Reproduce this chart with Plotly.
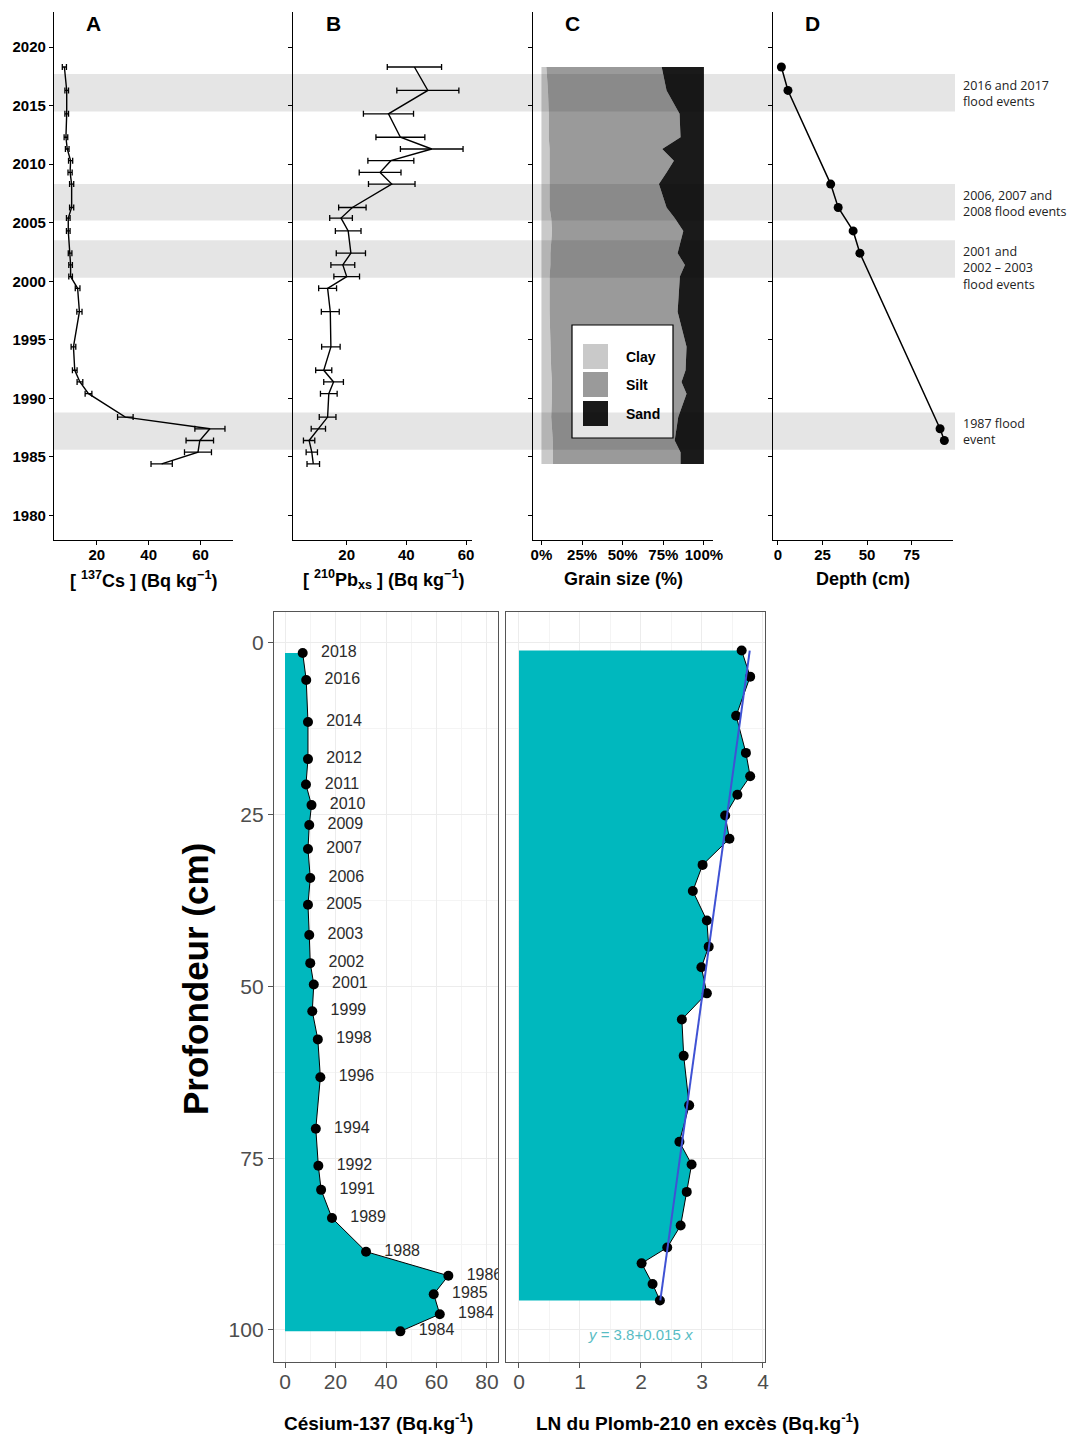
import plotly.graph_objects as go

# ---------------- DATA ----------------
# Top panels (dated core): year of each sample
years_top = [2018.3, 2016.3, 2014.3, 2012.3, 2011.3, 2010.3, 2009.3, 2008.3, 2006.3, 2005.4,
             2004.3, 2002.4, 2001.4, 2000.4, 1999.4, 1997.4, 1994.4, 1992.4, 1991.4, 1990.4,
             1988.4, 1987.4, 1986.4, 1985.4, 1984.4]
cs_top = [7.5, 8.4, 8.4, 8.1, 8.6, 9.9, 9.7, 10.3, 10.3, 9.0, 9.0, 9.7, 9.9, 9.9, 12.6,
          13.3, 11.0, 11.5, 13.5, 16.8, 31.0, 63.6, 59.7, 59.0, 45.0]
cs_err = [0.8, 0.7, 0.7, 0.7, 0.7, 0.8, 0.8, 0.8, 0.8, 0.7, 0.7, 0.7, 0.7, 0.7, 0.9,
          1.0, 0.9, 0.9, 1.1, 1.3, 3.0, 5.8, 5.3, 5.2, 4.1]
pb_top = [42.7, 47.2, 34.0, 38.0, 48.5, 34.8, 31.2, 35.1, 21.9, 18.1, 20.5, 21.4, 18.7,
          20.0, 13.6, 14.5, 14.7, 12.3, 15.6, 14.0, 13.6, 10.5, 7.4, 8.3, 8.8]
pb_err = [9.1, 10.4, 8.4, 8.2, 10.5, 7.7, 7.0, 7.8, 4.6, 3.8, 4.3, 4.9, 4.0, 4.3, 3.0,
          3.0, 3.1, 2.7, 3.3, 2.8, 2.8, 2.4, 1.9, 1.9, 2.1]
clay_pct = [3, 4, 4.5, 4.5, 5, 5, 5, 5, 5, 6, 6.5, 5.5, 5.5, 5, 5, 5, 5.5, 6, 6.5, 6.5,
            6, 6.5, 7, 7, 7]
silt_pct = [71, 73, 80.5, 81.1, 69.3, 76.5, 72, 67.3, 72, 76, 80.8, 78.3, 82.8, 80.2, 79.8,
            78.8, 83.8, 82.7, 79.7, 82.8, 78.2, 76.7, 75, 78.6, 78.6]
sand_pct = [26, 23, 15, 14.4, 25.7, 18.5, 23, 27.7, 23, 18, 12.7, 16.2, 11.7, 14.8, 15.2,
            16.2, 10.7, 11.3, 13.8, 10.7, 15.8, 16.8, 18, 14.4, 14.4]
years_d = [2018.3, 2016.3, 2008.3, 2006.3, 2004.3, 2002.4, 1987.4, 1986.4]
depth_d = [1.9, 5.6, 29.6, 33.8, 42.2, 46.0, 91.0, 93.4]

band_start = [2014.5, 2005.2, 2000.3, 1985.6]
band_end = [2017.7, 2008.3, 2003.5, 1988.8]
band_text = ["2016 and 2017<br>flood events", "2006, 2007 and<br>2008 flood events",
             "2001 and<br>2002 – 2003<br>flood events", "1987 flood<br>event"]
year_ticks = [1980, 1985, 1990, 1995, 2000, 2005, 2010, 2015, 2020]

# Bottom panels (depth profiles)
cs_depth = [1.46, 5.4, 11.5, 16.9, 20.6, 23.6, 26.5, 30.0, 34.2, 38.1, 42.5, 46.6, 49.7,
            53.6, 57.7, 63.2, 70.7, 76.1, 79.6, 83.7, 88.6, 92.1, 94.8, 97.7, 100.2]
cs_val = [7.0, 8.4, 9.1, 9.1, 8.3, 10.5, 9.6, 9.1, 10.0, 9.1, 9.6, 10.0, 11.4, 10.8, 13.0,
          14.0, 12.2, 13.2, 14.3, 18.6, 32.1, 64.7, 58.9, 61.3, 45.7]
cs_labels = ["2018", "2016", "2014", "2012", "2011", "2010", "2009", "2007", "2006", "2005",
             "2003", "2002", "2001", "1999", "1998", "1996", "1994", "1992", "1991", "1989",
             "1988", "1986", "1985", "1984", "1984"]
pb_depth = [1.1, 4.9, 10.6, 16.0, 19.4, 22.1, 25.1, 28.5, 32.3, 36.1, 40.4, 44.2, 47.2,
            51.0, 54.8, 60.1, 67.3, 72.6, 75.9, 79.9, 84.8, 88.0, 90.3, 93.3, 95.7]
pb_ln = [3.65, 3.79, 3.56, 3.72, 3.79, 3.58, 3.38, 3.45, 3.01, 2.85, 3.08, 3.11, 2.99,
         3.08, 2.67, 2.70, 2.79, 2.63, 2.83, 2.75, 2.65, 2.43, 2.01, 2.19, 2.31]
fit_intercept = 3.8
fit_slope = -0.0155
fit_label = "<i>y</i> = 3.8+0.015 <i>x</i>"

# ---------------- FIGURE ----------------
W, H = 1070, 1437
def px(x):
    return x / W
def py(y):
    return 1 - y / H

FONT = "Liberation Sans, Arial, sans-serif"
TEAL = "#00b8be"
fig = go.Figure()

# A
fig.add_trace(go.Scatter(x=cs_top, y=years_top, mode="lines", line=dict(color="black", width=1.4),
                         error_x=dict(type="data", array=cs_err, color="black", thickness=1.3, width=3),
                         xaxis="x", yaxis="y", showlegend=False))
# B
fig.add_trace(go.Scatter(x=pb_top, y=years_top, mode="lines", line=dict(color="black", width=1.4),
                         error_x=dict(type="data", array=pb_err, color="black", thickness=1.3, width=3),
                         xaxis="x2", yaxis="y2", showlegend=False))
# C stacked grain size
for vals, col, name in [(clay_pct, "#c9c9c9", "Clay"), (silt_pct, "#9a9a9a", "Silt"),
                        (sand_pct, "#1a1a1a", "Sand")]:
    fig.add_trace(go.Scatter(x=vals, y=years_top, mode="lines", stackgroup="gs", orientation="h",
                             line=dict(width=0, color=col), fillcolor=col, name=name,
                             xaxis="x3", yaxis="y3", showlegend=False))
# D
fig.add_trace(go.Scatter(x=depth_d, y=years_d, mode="lines+markers",
                         line=dict(color="black", width=1.5), marker=dict(color="black", size=9),
                         xaxis="x4", yaxis="y4", showlegend=False))

# Bottom left: Cs
fig.add_trace(go.Scatter(x=cs_val, y=cs_depth, mode="lines+markers", fill="tozerox",
                         fillcolor=TEAL, line=dict(color="black", width=1),
                         marker=dict(color="black", size=10),
                         xaxis="x5", yaxis="y5", showlegend=False))
fig.add_trace(go.Scatter(x=[v + 14.3 for v in cs_val], y=cs_depth, mode="text", text=cs_labels,
                         textfont=dict(family=FONT, size=16, color="#2b2b2b"),
                         textposition="middle center", cliponaxis=True,
                         xaxis="x5", yaxis="y5", showlegend=False))
# Bottom right: LN Pb
fig.add_trace(go.Scatter(x=pb_ln, y=pb_depth, mode="lines+markers", fill="tozerox",
                         fillcolor=TEAL, line=dict(color="black", width=1),
                         marker=dict(color="black", size=10),
                         xaxis="x6", yaxis="y6", showlegend=False))
fit_d = [pb_depth[0], pb_depth[-1]]
fig.add_trace(go.Scatter(x=[fit_intercept + fit_slope * d for d in fit_d], y=fit_d, mode="lines",
                         line=dict(color="#3f52d4", width=2),
                         xaxis="x6", yaxis="y6", showlegend=False))

# ---------------- AXES ----------------
top_dom = [py(540), py(12)]
yr_range = [1977.9, 2023.0]
tick_font = dict(family=FONT, size=15, color="black", weight="bold")

def top_x(domain, rng, tickvals, ticktext=None, anchor="y"):
    d = dict(domain=domain, range=rng, tickvals=tickvals, showgrid=False, zeroline=False,
             showline=True, linecolor="black", linewidth=1.2, ticks="outside", ticklen=4,
             tickcolor="black", tickfont=tick_font, anchor=anchor, automargin=False,
             ticklabelstandoff=-3)
    if ticktext:
        d["ticktext"] = ticktext
    return d

def top_y(anchor, labels):
    return dict(domain=top_dom, range=yr_range, tickvals=year_ticks, showgrid=False,
                zeroline=False, showline=True, linecolor="black", linewidth=1.2,
                ticks="outside", ticklen=4, tickcolor="black", tickfont=tick_font,
                showticklabels=labels, anchor=anchor, automargin=False)

grid = "#ececec"
bot_dom = [py(1362), py(612)]
def bot_axis(domain, rng, tickvals, minor_dtick, anchor, labels=True, ticks="outside",
             standoff=0):
    return dict(domain=domain, range=rng, tickvals=tickvals, showgrid=True, gridcolor=grid,
                gridwidth=1, zeroline=False, showline=True, mirror=True, linecolor="#555555",
                linewidth=1.3, ticks=ticks, ticklen=5, tickcolor="#555555",
                tickfont=dict(family=FONT, size=21, color="#4d4d4d"),
                showticklabels=labels, anchor=anchor, automargin=False,
                ticklabelstandoff=standoff,
                minor=dict(dtick=minor_dtick, showgrid=True, gridcolor="#f4f4f4", gridwidth=1))

fig.update_layout(
    xaxis=top_x([px(54), px(233)], [3.5, 72.5], [20, 40, 60], anchor="y"),
    yaxis=top_y("x", True),
    xaxis2=top_x([px(293), px(472)], [2.0, 62.0], [20, 40, 60], anchor="y2"),
    yaxis2=top_y("x2", False),
    xaxis3=top_x([px(533), px(712.7)], [-5.2, 105.4], [0, 25, 50, 75, 100],
                 ["0%", "25%", "50%", "75%", "100%"], anchor="y3"),
    yaxis3=top_y("x3", False),
    xaxis4=top_x([px(773), px(952.7)], [-2.8, 98.1], [0, 25, 50, 75], anchor="y4"),
    yaxis4=top_y("x4", False),
    xaxis5=bot_axis([px(274), px(498)], [-4.36, 84.36], [0, 20, 40, 60, 80], 10, "y5",
                    standoff=-4),
    yaxis5=bot_axis(bot_dom, [104.66, -4.51], [0, 25, 50, 75, 100], 12.5, "x5"),
    xaxis6=bot_axis([px(506), px(765)], [-0.213, 4.033], [0, 1, 2, 3, 4], 0.5, "y6",
                    standoff=-4),
    yaxis6=bot_axis(bot_dom, [104.66, -4.51], [0, 25, 50, 75, 100], 12.5, "x6",
                    labels=False, ticks=""),
)

# ---------------- SHAPES ----------------
shapes = []
# grain size legend (drawn under the flood bands)
shapes.append(dict(type="rect", xref="paper", yref="paper", x0=px(572), x1=px(673),
                   y0=py(438), y1=py(325), fillcolor="white", line=dict(color="black", width=1.2),
                   layer="above"))
legend_items = [("Clay", "#c9c9c9", 344), ("Silt", "#9a9a9a", 372), ("Sand", "#1a1a1a", 401)]
for name, col, top in legend_items:
    shapes.append(dict(type="rect", xref="paper", yref="paper", x0=px(583), x1=px(608),
                       y0=py(top + 25), y1=py(top), fillcolor=col, line=dict(width=0),
                       layer="above"))
for b0, b1 in zip(band_start, band_end):
    shapes.append(dict(type="rect", xref="paper", yref="y", x0=px(54), x1=px(955),
                       y0=b0, y1=b1, fillcolor="rgba(0,0,0,0.10)", line=dict(width=0),
                       layer="above"))

# ---------------- ANNOTATIONS ----------------
def A(text, x, y, size, xanchor="center", yanchor="middle", **kw):
    d = dict(text=text, x=x, y=y, xref=kw.pop("xref", "paper"), yref=kw.pop("yref", "paper"),
             xanchor=xanchor, yanchor=yanchor, showarrow=False,
             font=dict(family=kw.pop("family", FONT), size=size, color=kw.pop("color", "black")))
    d.update(kw)
    return d

ann = []
for letter, x in zip("ABCD", [93, 333, 572, 812]):
    ann.append(A(f"<b>{letter}</b>", px(x), py(23), 21))
for text, x in [("[ <sup>137</sup>Cs ] (Bq kg<sup>−1</sup>)", 143),
                ("[ <sup>210</sup>Pb<sub>xs</sub> ] (Bq kg<sup>−1</sup>)", 383),
                ("Grain size (%)", 623), ("Depth (cm)", 863)]:
    ann.append(A(f"<b>{text}</b>", px(x), py(579), 18))
for name, col, top in legend_items:
    ann.append(A(f"<b>{name}</b>", px(624), py(top + 13), 14, xanchor="left"))
for b1, text in zip(band_end, band_text):
    ann.append(A(text, px(961), b1, 12.5, xanchor="left", yanchor="top", yref="y",
                 align="left", yshift=-1, family="Open Sans, Noto Sans, sans-serif",
                 color="#222222"))
ann.append(A(fit_label, px(640), py(1334), 15, color="#58bcc4"))
ann.append(A("<b>Césium-137 (Bq.kg<sup>-1</sup>)</b>", px(378), py(1422), 19))
ann.append(A("<b>LN du Plomb-210 en excès (Bq.kg<sup>-1</sup>)</b>", px(697), py(1422), 19))
ann.append(A("<b>Profondeur (cm)</b>", px(196), py(979), 35, textangle=-90))

fig.update_layout(width=W, height=H, autosize=False,
                  margin=dict(l=0, r=0, t=0, b=0, pad=0, autoexpand=False),
                  paper_bgcolor="white", plot_bgcolor="white", shapes=shapes,
                  annotations=ann, font=dict(family=FONT), showlegend=False)

fig.write_html("out.html", config={"displayModeBar": False, "responsive": False},
               post_script="document.documentElement.style.overflow='hidden';"
                           "document.body.style.overflow='hidden';"
                           "document.body.style.margin='0';")
